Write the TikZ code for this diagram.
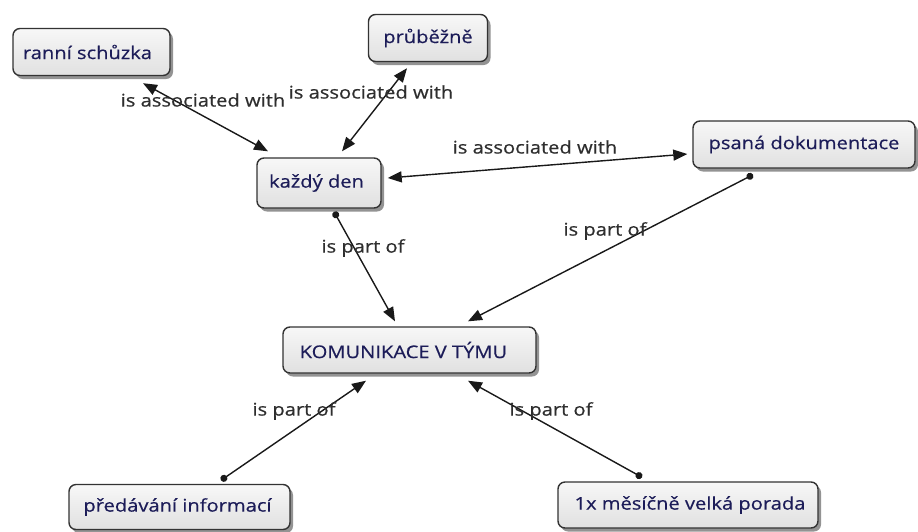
\documentclass[tikz,border=0pt]{standalone}
\usepackage{fontspec}
\setmainfont{Open Sans}[FakeStretch=1.15,FakeBold=0.5]
\usetikzlibrary{arrows.meta,shadows}

\definecolor{conceptborder}{HTML}{333333}
\definecolor{concepttext}{HTML}{1C1C58}
\definecolor{linktext}{HTML}{2E2E2E}

\tikzset{
  concept/.style={
    draw=conceptborder, line width=1.4pt, rounded corners=7pt,
    top color=white!97!black, bottom color=white!88!black,
    drop shadow={shadow xshift=3pt, shadow yshift=-3.5pt, fill=black!70, opacity=.6},
    text=concepttext, font=\fontsize{17.5}{20}\selectfont,
    inner sep=0pt, minimum height=47pt, anchor=center
  },
  linklabel/.style={text=linktext, font=\fontsize{17.5}{20}\selectfont, inner sep=0pt},
  link/.style={draw=black!90, line width=1.4pt},
  bothtips/.style={{Triangle[length=14pt,width=11pt]}-{Triangle[length=14pt,width=11pt]}},
  dotstart/.style={{Circle[length=7pt]}-{Triangle[length=14pt,width=11pt]}}
}

\begin{document}
\begin{tikzpicture}[x=1pt,y=-1pt]
  \useasboundingbox[fill=white] (0,0) rectangle (918,531);

  % concepts (a leading kern nudges each label sideways inside its box)
  \node[concept, minimum width=157pt] (ranni) at (91.5,52) {\kern-8pt ranní schůzka};
  \node[concept, minimum width=119pt] (prub)  at (428,38) {průběžně};
  \node[concept, minimum width=124pt, minimum height=50pt] (kazdy) at (319,183) {\kern-5pt každý den};
  \node[concept, minimum width=222pt] (psana) at (804,144.5) {psaná dokumentace};
  \node[concept, minimum width=253pt, minimum height=46pt] (kom) at (409.5,350) {\kern-12pt KOMUNIKACE V TÝMU};
  \node[concept, minimum width=221pt, minimum height=45pt] (pred) at (179.5,507) {\kern-4pt předávání informací};
  \node[concept, minimum width=260pt, minimum height=46pt] (one) at (688,505) {\kern4pt 1x měsíčně velká porada};

  % associations
  \draw[link,bothtips] ([shift={(51.5,7)}]ranni.south) -- ([shift={(-51,-6)}]kazdy.north);
  \draw[link,bothtips] ([shift={(-21,6)}]prub.south) -- ([shift={(23,-6)}]kazdy.north);
  \draw[link,bothtips] ([shift={(6,-5)}]kazdy.east) -- ([shift={(-5,9.5)}]psana.west);

  % part-of links
  \draw[link,dotstart] ([shift={(15,3)}]kazdy.south) -- ([shift={(-14.5,-5)}]kom.north);
  \draw[link,dotstart] ([shift={(-51,6)}]psana.south) -- ([shift={(58.5,-5)}]kom.north);
  \draw[link,dotstart] ([shift={(41.5,-3.5)}]pred.north) -- ([shift={(-43.5,7)}]kom.south);
  \draw[link,dotstart] ([shift={(-46,-4)}]one.north) -- ([shift={(58.5,7)}]kom.south);

  % link labels
  \node[linklabel] (l1) at (203,100) {is associated with};
  \node[linklabel] (l2) at (371,92) {is associated with};
  \node[linklabel] (l3) at (535,147) {is associated with};
  \node[linklabel] (l4) at (363,248) {is part of};
  \node[linklabel] (l5) at (605,231) {is part of};
  \node[linklabel] (l6) at (294,411) {is part of};
  \node[linklabel] (l7) at (551,411) {is part of};
\end{tikzpicture}
\end{document}
